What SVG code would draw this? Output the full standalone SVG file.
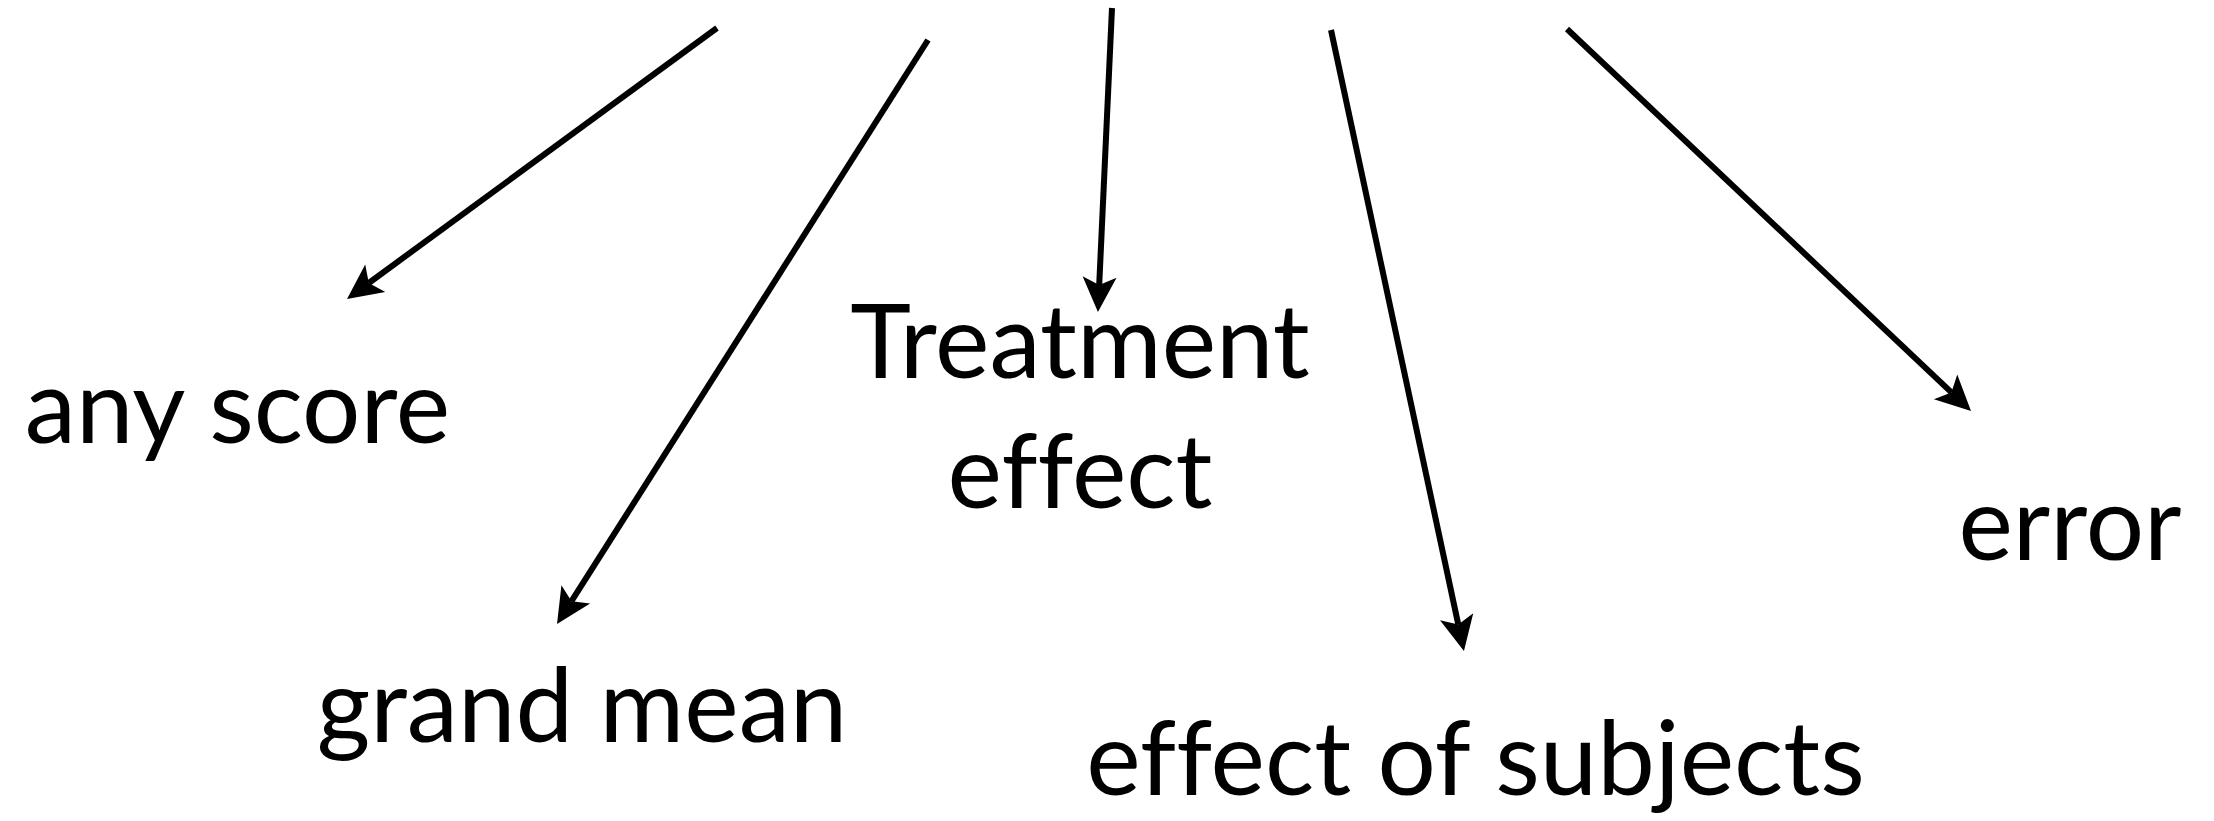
<svg xmlns="http://www.w3.org/2000/svg" width="2214" height="821" viewBox="0 0 2214 821">
<style>
  .lbl { font-family: Lato, "Open Sans", "Liberation Sans", sans-serif; font-size: 103px; fill: #000; text-anchor: middle; font-variant-ligatures: none; }
  .conn { stroke: #000; stroke-width: 6; fill: none; marker-end: url(#ah); }
</style>
<defs>
  <marker id="ah" markerUnits="userSpaceOnUse" orient="auto" refX="0" refY="0" markerWidth="80" markerHeight="80" overflow="visible">
    <path d="M27,0 L-8,-17 L0,0 L-8,17 Z" fill="#000"/>
  </marker>
</defs>
<rect width="2214" height="821" fill="#fff"/>
<g id="connectors">
  <line class="conn" x1="717" y1="28" x2="368.8" y2="283.0"/>
  <line class="conn" x1="928" y1="40" x2="571.5" y2="601.2"/>
  <line class="conn" x1="1112" y1="8" x2="1099.2" y2="285.0"/>
  <line class="conn" x1="1331" y1="30" x2="1458.3" y2="624.6"/>
  <line class="conn" x1="1567" y1="29" x2="1951.4" y2="392.4"/>
</g>
<g id="any-score"><text class="lbl" x="237.5" y="443">any score</text></g>
<g id="grand-mean"><text class="lbl" x="582" y="742">grand mean</text></g>
<g id="treatment-effect"><text class="lbl" x="1080" y="378">Treatment</text><text class="lbl" x="1080" y="508">effect</text></g>
<g id="effect-of-subjects"><text class="lbl" x="1475.5" y="795">effect of subjects</text></g>
<g id="error"><text class="lbl" x="2070" y="560">error</text></g>
</svg>
